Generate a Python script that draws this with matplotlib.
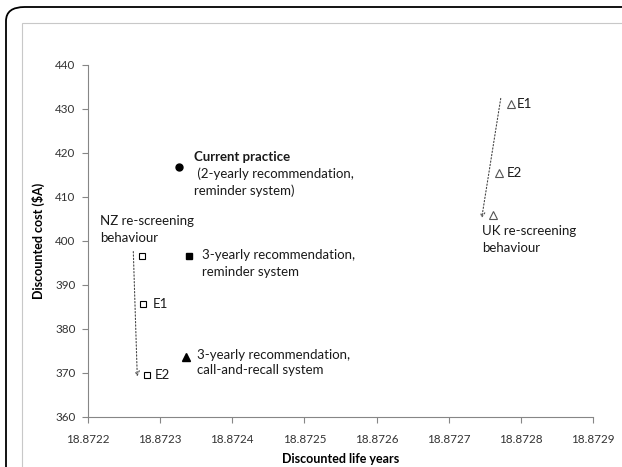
"""Cost vs life-years scatter for cervical screening scenarios."""

import matplotlib

matplotlib.use("Agg")
import matplotlib.pyplot as plt
from matplotlib.patches import FancyBboxPatch, Rectangle

plt.rcParams["font.family"] = ["Lato", "DejaVu Sans"]

# scenario points (discounted life years, discounted cost $A)
current_x, current_y = [18.8723261], [416.8]
rem3_x, rem3_y = [18.8723400], [396.6]
call3_x, call3_y = [18.8723358], [373.7]
nz_x = [18.8722744, 18.8722767, 18.8722813]
nz_y = [396.7, 385.7, 369.5]
uk_x = [18.8727618, 18.8727859, 18.8727701]
uk_y = [405.8, 431.1, 415.5]

# dotted arrows (start, end)
nz_arrow = [(18.8722628, 397.6), (18.8722683, 369.2)]
uk_arrow = [(18.8727721, 432.4), (18.8727457, 405.2)]

x_ticks = [18.8722, 18.8723, 18.8724, 18.8725, 18.8726, 18.8727, 18.8728, 18.8729]
y_ticks = [360, 370, 380, 390, 400, 410, 420, 430, 440]

fig = plt.figure(figsize=(6.22, 4.67), dpi=100)

# page frame
fig.patches.append(FancyBboxPatch((6 / 622, -0.1), 1.2, 1.1 - 7 / 467,
                                  boxstyle="round,pad=0,rounding_size=0.03",
                                  transform=fig.transFigure, fill=False,
                                  edgecolor="black", linewidth=1.3))
fig.patches.append(Rectangle((22 / 622, -0.1), 1.2, 1.1 - 23 / 467,
                             transform=fig.transFigure, fill=False,
                             edgecolor="#c8c8c8", linewidth=0.8))

ax = fig.add_axes([88 / 622, 1 - 417 / 467, 505 / 622, 352 / 467])

ax.plot(current_x, current_y, "o", color="black", markersize=5)
ax.plot(rem3_x, rem3_y, "s", color="black", markersize=4.5)
ax.plot(call3_x, call3_y, "^", color="black", markersize=5.5)
ax.plot(nz_x, nz_y, "s", markerfacecolor="white", markeredgecolor="black",
        markersize=4.8, markeredgewidth=0.8, linestyle="none")
ax.plot(uk_x, uk_y, "^", markerfacecolor="white", markeredgecolor="#555555",
        markersize=5.5, markeredgewidth=0.8, linestyle="none")

for start, end in (nz_arrow, uk_arrow):
    ax.annotate("", xy=end, xytext=start,
                arrowprops=dict(arrowstyle="->", linestyle=(0, (1.2, 1.8)),
                                color="#444444", linewidth=0.8,
                                shrinkA=0, shrinkB=0, mutation_scale=8))


def label(x, y, text, dx, dy, bold=False):
    ax.annotate(text, (x, y), xytext=(dx, dy), textcoords="offset pixels",
                fontsize=9.5, va="center", ha="left", color="#1a1a1a",
                fontweight="bold" if bold else "normal")


label(current_x[0], current_y[0], "Current practice", 15, 10, bold=True)
label(current_x[0], current_y[0], " (2-yearly recommendation,", 15, -7)
label(current_x[0], current_y[0], "reminder system)", 15, -24)
label(rem3_x[0], rem3_y[0], "3-yearly recommendation,", 13, 1)
label(rem3_x[0], rem3_y[0], "reminder system", 13, -16)
label(call3_x[0], call3_y[0], "3-yearly recommendation,", 11, 2)
label(call3_x[0], call3_y[0], "call-and-recall system", 11, -13)
label(nz_x[0], nz_y[0], "NZ re-screening", -42, 35)
label(nz_x[0], nz_y[0], "behaviour", -42, 18)
label(nz_x[1], nz_y[1], "E1", 9, 0)
label(nz_x[2], nz_y[2], "E2", 8, 0)
label(uk_x[1], uk_y[1], "E1", 6, 0)
label(uk_x[2], uk_y[2], "E2", 7, 0)
label(uk_x[0], uk_y[0], "UK re-screening", -11, -16)
label(uk_x[0], uk_y[0], "behaviour", -11, -33)

ax.set_xlim(x_ticks[0], x_ticks[-1])
ax.set_ylim(y_ticks[0], y_ticks[-1])
ax.set_xticks(x_ticks)
ax.set_xticklabels([f"{t:.4f}" for t in x_ticks])
ax.set_yticks(y_ticks)
ax.tick_params(direction="out", length=4, width=0.8, color="#868686",
               labelsize=8.4, labelcolor="#333333")
ax.tick_params(axis="x", pad=8)
ax.tick_params(axis="y", pad=5)
for side in ("top", "right"):
    ax.spines[side].set_visible(False)
for side in ("left", "bottom"):
    ax.spines[side].set_color("#868686")
    ax.spines[side].set_linewidth(0.8)

ax.set_xlabel("Discounted life years", fontsize=9, fontweight="bold", labelpad=6)
ax.set_ylabel("Discounted cost ($A)", fontsize=9, fontweight="bold", labelpad=7)

fig.savefig("out.png", dpi=100)
